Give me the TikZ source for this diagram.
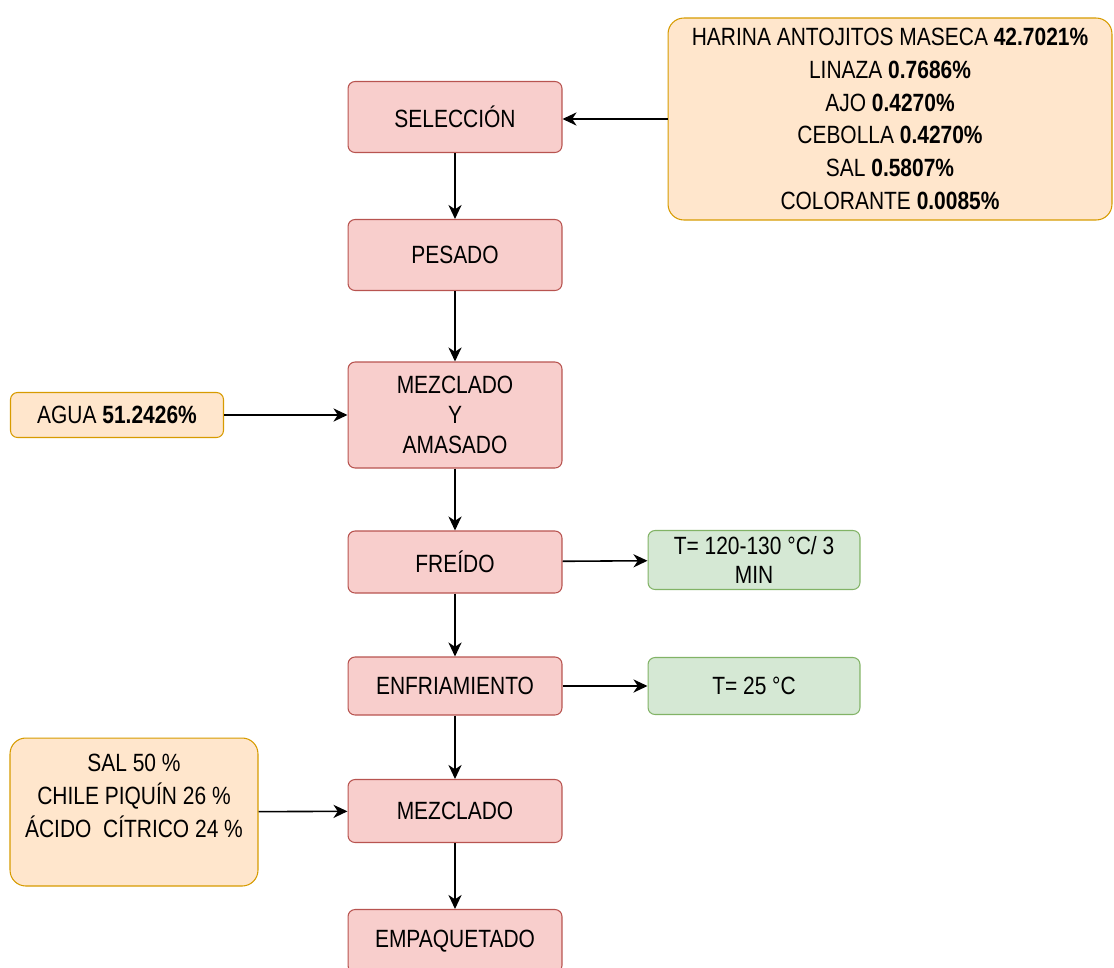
\documentclass[tikz,border=0pt]{standalone}
\usepackage{fontspec}
\setmainfont{Liberation Sans}[FakeStretch=0.84]
\usetikzlibrary{arrows.meta}

\definecolor{rosa}{HTML}{F8CECC}
\definecolor{rosaBorde}{HTML}{B85450}
\definecolor{naranja}{HTML}{FFE6CC}
\definecolor{naranjaBorde}{HTML}{D79B00}
\definecolor{verde}{HTML}{D5E8D4}
\definecolor{verdeBorde}{HTML}{82B366}

\begin{document}
\begin{tikzpicture}[x=0.02cm, y=-0.02cm,
    caja/.style={line width=0.6pt, rounded corners=4pt, align=center, inner sep=0pt,
        font=\fontsize{14.2}{18.6}\selectfont, text=black},
    proceso/.style={caja, draw=rosaBorde, fill=rosa, minimum width=4.28cm},
    entrada/.style={caja, draw=naranjaBorde, fill=naranja},
    condicion/.style={caja, draw=verdeBorde, fill=verde, minimum width=4.24cm},
    flecha/.style={-{Stealth[length=8pt, width=7.5pt, inset=2.5pt]}, line width=0.9pt}]
    % Margenes de la imagen
    \useasboundingbox (0,0) rectangle (1114,967);

    % Etapas del proceso
    \node[proceso, minimum height=1.42cm] (sel) at (455,117) {SELECCIÓN};
    \node[proceso, minimum height=1.42cm] (pes) at (455,255) {PESADO};
    \node[proceso, minimum height=2.12cm] (mez) at (455,415) {MEZCLADO\\[-1.5pt] Y\\[-1.5pt] AMASADO};
    \node[proceso, minimum height=1.24cm] (fre) at (455,562) {FREÍDO};
    \node[proceso, minimum height=1.16cm] (enf) at (455,686) {ENFRIAMIENTO};
    \node[proceso, minimum height=1.26cm] (mzc) at (455,811) {MEZCLADO};
    \node[proceso, minimum height=1.26cm] (emp) at (455,941) {EMPAQUETADO};

    % Ingredientes
    \node[entrada, rounded corners=9pt, minimum width=8.88cm, minimum height=4.04cm] (ing) at (890,119)
        {HARINA ANTOJITOS MASECA \textbf{42.7021\%}\\ LINAZA \textbf{0.7686\%}\\
         AJO \textbf{0.4270\%}\\ CEBOLLA \textbf{0.4270\%}\\ SAL \textbf{0.5807\%}\\
         COLORANTE \textbf{0.0085\%}};
    \node[entrada, minimum width=4.26cm, minimum height=0.9cm] (agu) at (117,415) {AGUA \textbf{51.2426\%}};
    \node[entrada, rounded corners=9pt, minimum width=4.96cm, minimum height=2.96cm] (esp) at (134,812)
        {SAL 50 \%\\ CHILE PIQUÍN 26 \%\\ ÁCIDO~ CÍTRICO 24 \%\\ ~};

    % Condiciones
    \node[condicion, minimum height=1.18cm] (tfr) at (754,560) {T= 120-130 °C/ 3\\[-2pt] MIN};
    \node[condicion, minimum height=1.14cm] (ten) at (754,686) {T= 25 °C};

    % Flechas
    \draw[flecha] (ing.west) -- (ing.west -| sel.east);
    \draw[flecha] (sel) -- (pes);
    \draw[flecha] (pes) -- (mez);
    \draw[flecha] (agu) -- (mez);
    \draw[flecha] (mez) -- (fre);
    \draw[flecha] (fre) -- (tfr);
    \draw[flecha] (fre) -- (enf);
    \draw[flecha] (enf) -- (ten);
    \draw[flecha] (enf) -- (mzc);
    \draw[flecha] (esp) -- (mzc);
    \draw[flecha] (mzc) -- (emp);
\end{tikzpicture}
\end{document}
